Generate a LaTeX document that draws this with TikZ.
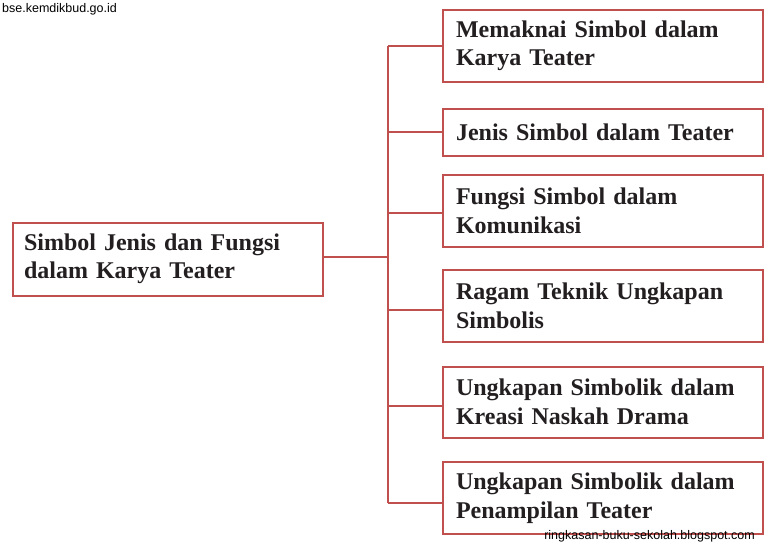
\documentclass[tikz,border=0pt]{standalone}
\usepackage{fontspec}
\setmainfont{Liberation Serif}
\setsansfont{Liberation Sans}
\definecolor{boxred}{RGB}{192,80,77}
\definecolor{txt}{RGB}{35,31,32}
\begin{document}
\begin{tikzpicture}[x=1pt,y=-1pt,
  box/.style={draw=boxred, line width=2pt, fill=white, minimum width=320pt, text width=294pt, inner xsep=13pt, align=left, font=\bfseries\fontsize{24}{28.5}\selectfont, text=txt, anchor=west},
  link/.style={draw=boxred, line width=2pt},
  wm/.style={font=\sffamily\fontsize{12.5}{12.5}\selectfont, text=black, inner sep=0pt}]
\useasboundingbox (0,0) rectangle (768,543);
\fill[white] (0,0) rectangle (768,543);
\node[box, minimum width=310pt, text width=288pt, inner xsep=11pt, minimum height=73pt] (root) at (12,259) {Simbol Jenis dan Fungsi\\dalam Karya Teater};
\node[box, minimum height=72pt] (b1) at (442,46) {Memaknai Simbol dalam\\Karya Teater};
\node[box, minimum height=47pt] (b2) at (442,132) {Jenis Simbol dalam Teater};
\node[box, minimum height=72pt] (b3) at (442,211) {Fungsi Simbol dalam\\Komunikasi};
\node[box, minimum height=72pt] (b4) at (442,306) {Ragam Teknik Ungkapan\\Simbolis};
\node[box, minimum height=71pt] (b5) at (442,402) {Ungkapan Simbolik dalam\\Kreasi Naskah Drama};
\node[box, minimum height=72pt] (b6) at (442,498) {Ungkapan Simbolik dalam\\Penampilan Teater};
\coordinate (top) at (388,46);
\coordinate (bot) at (388,503);
\coordinate (mid) at (388,257);
\draw[link] (root.east |- mid) -- (mid);
\draw[link] (top) -- (bot);
\draw[link] (388,46) -- (b1.west |- 0,46);
\draw[link] (388,132) -- (b2.west |- 0,132);
\draw[link] (388,213) -- (b3.west |- 0,213);
\draw[link] (388,310) -- (b4.west |- 0,310);
\draw[link] (388,406) -- (b5.west |- 0,406);
\draw[link] (388,503) -- (b6.west |- 0,503);
\node[wm, anchor=west] (wm1) at (2,9) {bse.kemdikbud.go.id};
\node[wm, anchor=east] (wm2) at (755,536) {ringkasan-buku-sekolah.blogspot.com};
\end{tikzpicture}
\end{document}
